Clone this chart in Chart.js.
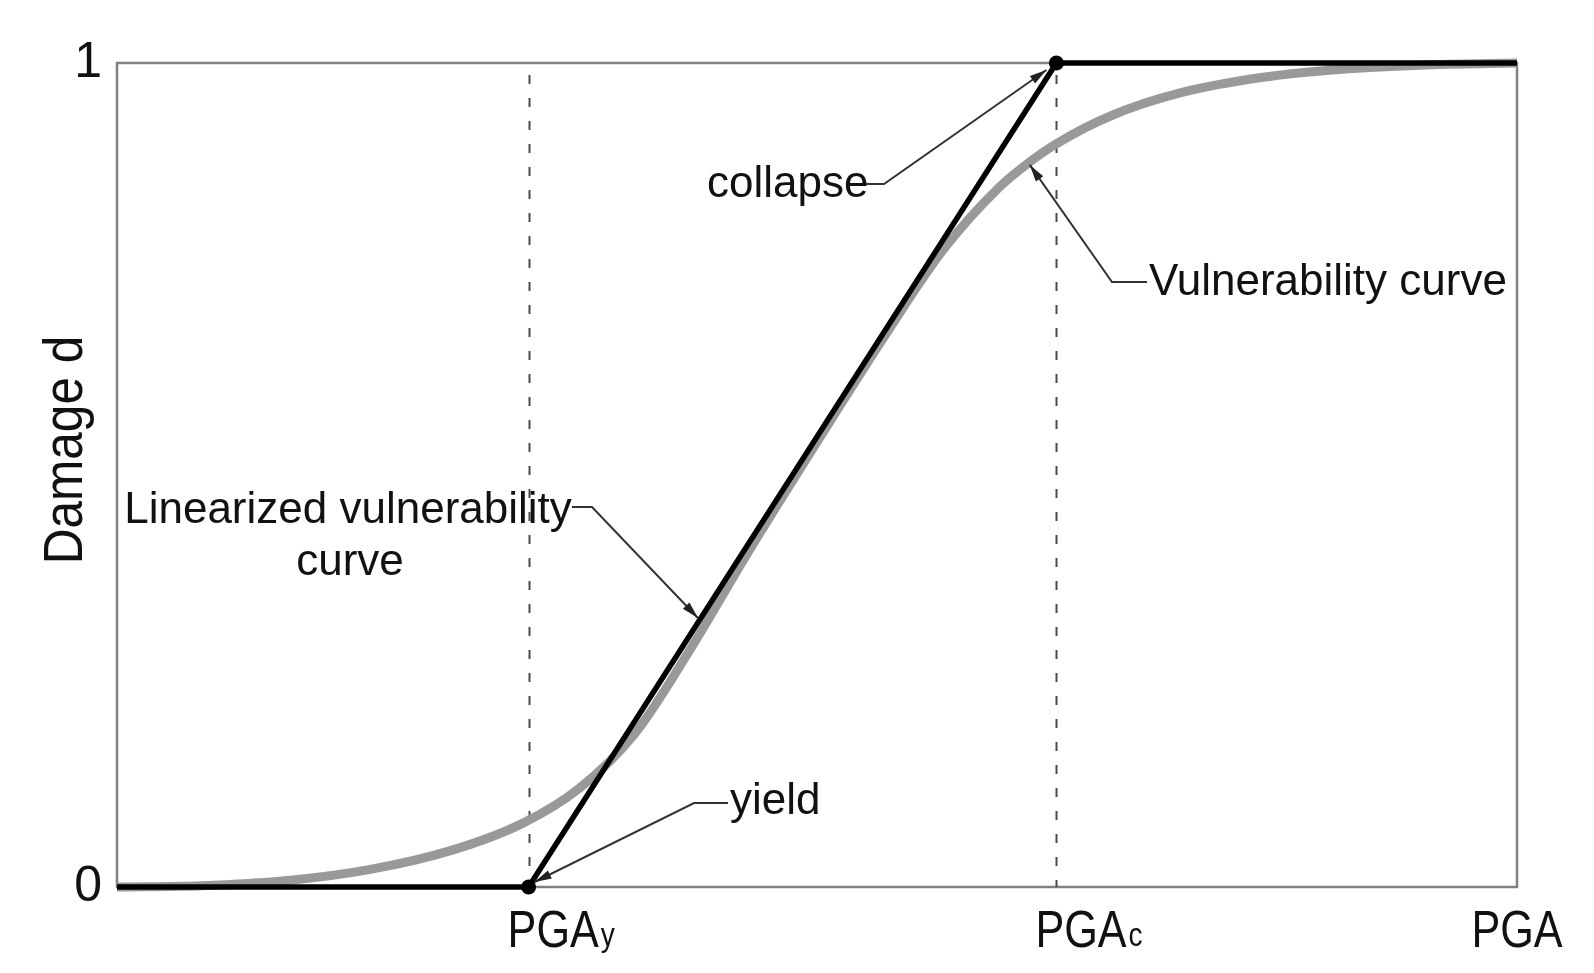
<!DOCTYPE html>
<html>
<head>
<meta charset="utf-8">
<script src="https://cdn.jsdelivr.net/npm/chart.js@4/dist/chart.umd.min.js"></script>
<style>
  body { margin: 0; background: #fff; }
  canvas { display: block; }
</style>
</head>
<body>
<canvas id="myChart" width="1594" height="973"></canvas>
<script>
// x ticks (PGA scaled to 0..1)
const xTickValues = [0.294, 0.671, 1];
const xTickNames = ['PGA', 'PGA', 'PGA'];
const xTickSubs = ['y', 'c', ''];
const yTickValues = [0, 1];

// linearized vulnerability curve
const linearX = [0, 0.294, 0.671, 1];
const linearY = [0, 0, 1, 1];

// vulnerability curve
const vulnX = [0, 0.06, 0.12, 0.18, 0.24, 0.29, 0.33, 0.37, 0.41, 0.45, 0.50,
  0.55, 0.59, 0.63, 0.652, 0.67, 0.71, 0.76, 0.82, 0.88, 0.94, 1];
const vulnY = [0, 0.0015, 0.0075, 0.021, 0.045, 0.0775, 0.1195, 0.1865, 0.290, 0.404, 0.540,
  0.673, 0.773, 0.849, 0.880, 0.901, 0.936, 0.964, 0.983, 0.993, 0.998, 1];

const axisTitle = 'Damage d';
const labelCollapse = 'collapse';
const labelVuln = 'Vulnerability curve';
const labelLinear = ['Linearized vulnerability', 'curve'];
const labelYield = 'yield';

const toPoints = (xs, ys) => xs.map((x, i) => ({ x: x, y: ys[i] }));

const FONT = '"Liberation Sans", Arial, sans-serif';

function arrow(ctx, pts) {
  // polyline ending with a filled arrow head at the last point
  ctx.save();
  ctx.strokeStyle = '#333';
  ctx.fillStyle = '#222';
  ctx.lineWidth = 2;
  ctx.beginPath();
  ctx.moveTo(pts[0][0], pts[0][1]);
  for (let i = 1; i < pts.length; i++) ctx.lineTo(pts[i][0], pts[i][1]);
  ctx.stroke();
  const a = pts[pts.length - 2], b = pts[pts.length - 1];
  const ang = Math.atan2(b[1] - a[1], b[0] - a[0]);
  const len = 17, w = 4.5;
  ctx.translate(b[0], b[1]);
  ctx.rotate(ang);
  ctx.beginPath();
  ctx.moveTo(0, 0);
  ctx.lineTo(-len, -w);
  ctx.lineTo(-len, w);
  ctx.closePath();
  ctx.fill();
  ctx.restore();
}

const decorPlugin = {
  id: 'decor',
  beforeDatasetsDraw(chart) {
    const { ctx, chartArea: a, scales } = chart;
    ctx.save();
    // frame
    ctx.strokeStyle = '#808080';
    ctx.lineWidth = 2.5;
    ctx.strokeRect(a.left, a.top, a.right - a.left, a.bottom - a.top);
    // dashed verticals at PGAy and PGAc
    ctx.strokeStyle = '#4a4a4a';
    ctx.lineWidth = 2;
    ctx.setLineDash([9, 14]);
    xTickValues.forEach((v, i) => {
      if (!xTickSubs[i]) return;
      const px = Math.round(scales.x.getPixelForValue(v)) + 0.5;
      ctx.beginPath();
      ctx.moveTo(px, a.top + 12);
      ctx.lineTo(px, a.bottom);
      ctx.stroke();
    });
    ctx.restore();
  },
  afterDatasetsDraw(chart) {
    const { ctx, chartArea: a, scales } = chart;
    const X = v => scales.x.getPixelForValue(v);
    const Y = v => scales.y.getPixelForValue(v);
    ctx.save();
    ctx.fillStyle = '#111';

    // x tick labels with subscripts
    const base = a.bottom + 60;
    xTickValues.forEach((v, i) => {
      const px = X(v);
      ctx.font = '52px ' + FONT;
      const w = ctx.measureText(xTickNames[i]).width * 0.83;
      const start = xTickSubs[i] ? px - 21 : px - w / 2;
      ctx.save();
      ctx.translate(start, base);
      ctx.scale(0.83, 1);
      ctx.textAlign = 'left';
      ctx.textBaseline = 'alphabetic';
      ctx.fillText(xTickNames[i], 0, 0);
      ctx.restore();
      if (xTickSubs[i]) {
        ctx.save();
        ctx.font = '33px ' + FONT;
        ctx.translate(start + w + 2, base - 1);
        ctx.scale(0.85, 1);
        ctx.fillText(xTickSubs[i], 0, 0);
        ctx.restore();
      }
    });

    // y axis title
    ctx.save();
    ctx.font = '55px ' + FONT;
    ctx.translate(82, (a.top + a.bottom) / 2 - 25);
    ctx.rotate(-Math.PI / 2);
    ctx.scale(0.9, 1);
    ctx.textAlign = 'center';
    ctx.textBaseline = 'alphabetic';
    ctx.fillText(axisTitle, 0, 0);
    ctx.restore();

    // annotations
    ctx.font = '44px ' + FONT;
    ctx.textBaseline = 'alphabetic';
    ctx.textAlign = 'left';
    ctx.fillText(labelCollapse, 707, 197);
    ctx.fillText(labelVuln, 1149, 295);
    ctx.fillText(labelYield, 730, 814);
    ctx.textAlign = 'center';
    ctx.fillText(labelLinear[0], 348, 523);
    ctx.fillText(labelLinear[1], 350, 575);

    const cx = X(linearX[2]), cy = Y(linearY[2]);
    arrow(ctx, [[866, 184], [884, 184], [cx - 10, cy + 7]]);
    const yx = X(linearX[1]), yy = Y(linearY[1]);
    arrow(ctx, [[728, 803], [694, 803], [yx + 6, yy - 5]]);
    const vi = vulnX.indexOf(0.652);
    arrow(ctx, [[1147, 282], [1112, 282], [X(vulnX[vi]), Y(vulnY[vi]) + 3]]);
    const ly = 0.3265;
    const lx = linearX[1] + ly * (linearX[2] - linearX[1]);
    arrow(ctx, [[572, 507], [592, 507], [X(lx) - 3, Y(ly)]]);
    ctx.restore();
  }
};

const data = {
  datasets: [{
    label: 'Linearized vulnerability curve',
    data: toPoints(linearX, linearY),
    borderColor: '#000',
    backgroundColor: '#000',
    borderWidth: 5.5,
    pointRadius: [0, 7.5, 7.5, 0],
    pointBorderWidth: 0,
    tension: 0,
    clip: false,
    order: 0
  }, {
    label: 'Vulnerability curve',
    data: toPoints(vulnX, vulnY),
    borderColor: '#999',
    borderWidth: 9,
    pointRadius: 0,
    cubicInterpolationMode: 'monotone',
    clip: false,
    order: 1
  }]
};

const config = {
  type: 'line',
  data: data,
  options: {
    responsive: false,
    animation: false,
    devicePixelRatio: 1,
    layout: { padding: { left: 0, top: 63, right: 77, bottom: 0 } },
    plugins: {
      legend: { display: false },
      tooltip: { enabled: false }
    },
    scales: {
      x: {
        type: 'linear',
        min: 0,
        max: 1,
        afterBuildTicks: (scale) => { scale.ticks = xTickValues.map(v => ({ value: v })); },
        afterFit: (scale) => { scale.height = 86; },
        ticks: { display: false },
        grid: { display: false },
        border: { display: false }
      },
      y: {
        min: 0,
        max: 1,
        afterBuildTicks: (scale) => { scale.ticks = yTickValues.map(v => ({ value: v })); },
        afterFit: (scale) => { scale.width = 117; },
        ticks: {
          color: '#111',
          padding: 15,
          font: { family: FONT, size: 50 },
          callback: (v) => String(v)
        },
        grid: { display: false, drawTicks: false },
        border: { display: false }
      }
    }
  },
  plugins: [decorPlugin]
};

const myChart = new Chart(document.getElementById('myChart'), config);
</script>
</body>
</html>
